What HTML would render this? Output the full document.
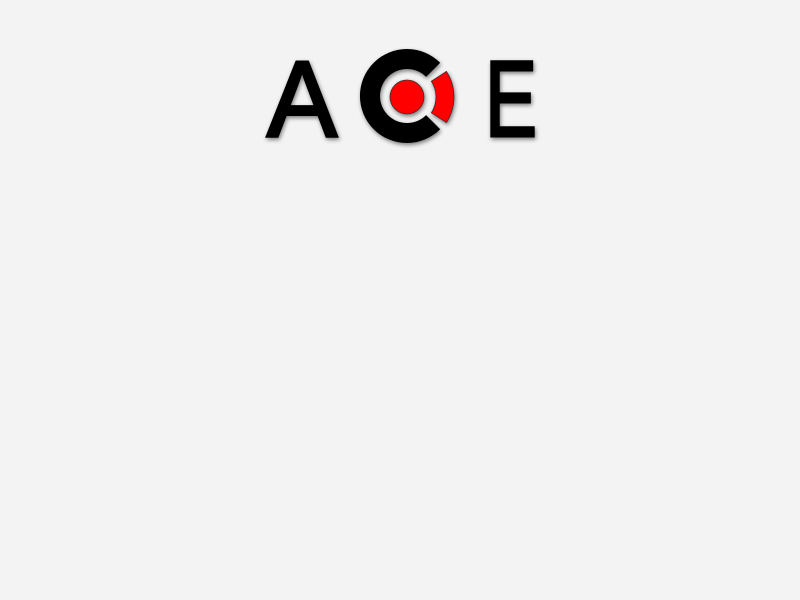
<!DOCTYPE html>
<html><head><meta charset="utf-8"><style>
html,body{margin:0;padding:0;background:#f3f3f3;width:800px;height:600px;overflow:hidden}
svg{display:block}
</style></head><body>
<svg width="800" height="600">
<defs><filter id="sh" x="-20%" y="-20%" width="140%" height="140%"><feGaussianBlur in="SourceAlpha" stdDeviation="2"/><feOffset dx="1" dy="2"/><feComponentTransfer><feFuncA type="linear" slope="0.5"/></feComponentTransfer><feMerge><feMergeNode/><feMergeNode in="SourceGraphic"/></feMerge></filter></defs>
<g filter="url(#sh)">
<text x="302" y="136" text-anchor="middle" font-family="Liberation Sans, sans-serif" font-size="108" fill="#000" stroke="#000" stroke-width="3" textLength="70" lengthAdjust="spacingAndGlyphs">A</text>
<path fill="#000" d="M440.2 62.8 A47 47 0 1 0 440.2 129.2 L426.1 115.1 A27 27 0 1 1 426.1 76.9 Z"/>
<circle cx="407" cy="97" r="17" fill="#f00" stroke="#333" stroke-width="0.8"/>
<path fill="#f00" stroke="#333" stroke-width="0.8" d="M446.4 71.4 A47 47 0 0 1 446.4 122.6 L431.3 112.8 A29 29 0 0 0 431.3 81.2 Z"/>
<text x="511" y="136" text-anchor="middle" font-family="Liberation Sans, sans-serif" font-size="108" fill="#000" stroke="#000" stroke-width="3" textLength="52" lengthAdjust="spacingAndGlyphs">E</text>
</g>
</svg>
</body></html>
